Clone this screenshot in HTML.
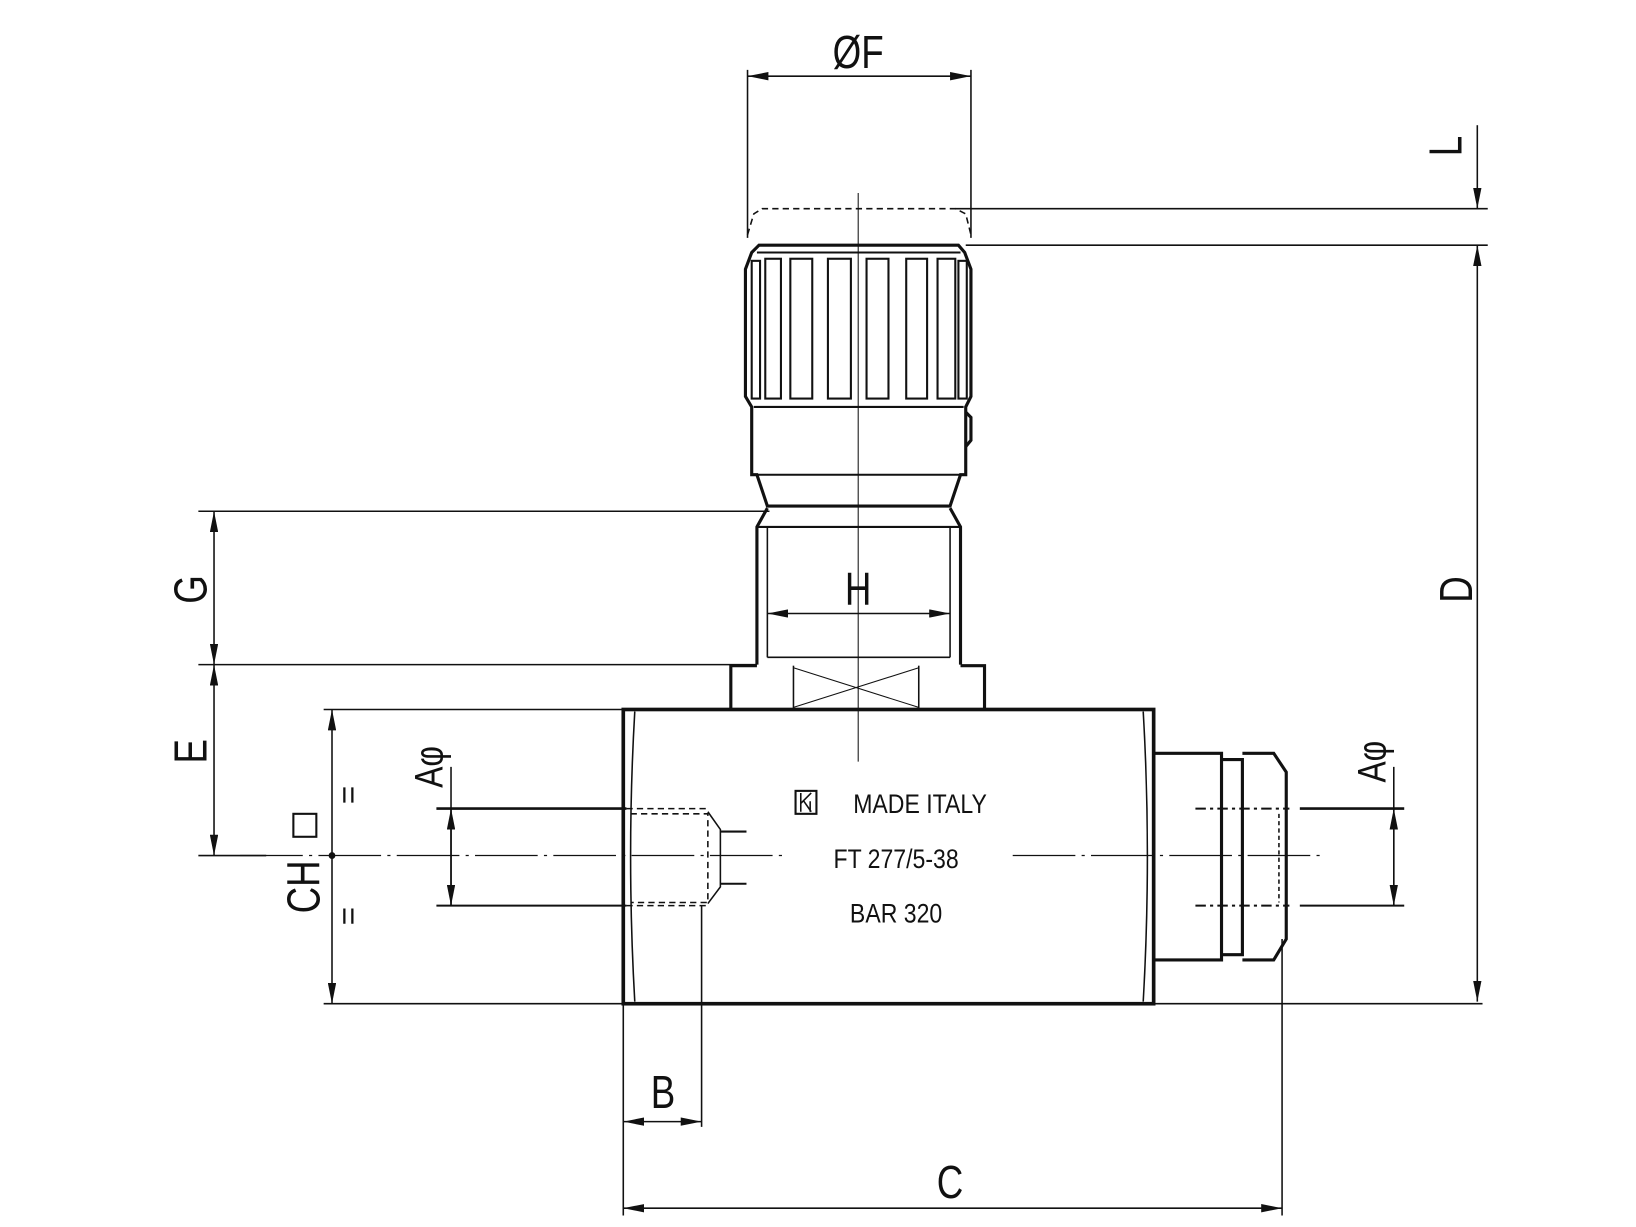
<!DOCTYPE html>
<html><head><meta charset="utf-8"><style>
html,body{margin:0;padding:0;background:#fff;}
svg{display:block}
text{font-family:"Liberation Sans",sans-serif;fill:#111}
</style></head><body>
<svg width="1636" height="1227" viewBox="0 0 1567 1176" preserveAspectRatio="none" xmlns="http://www.w3.org/2000/svg">
<defs>
<marker id="a" viewBox="0 0 20 8" refX="20" refY="4" markerWidth="20" markerHeight="8" markerUnits="userSpaceOnUse" orient="auto-start-reverse"><path d="M0,0 L20,4 L0,8 z" fill="#111"/></marker>
</defs>
<g stroke="#111" fill="none" stroke-width="1.5">
<!-- ØF -->
<line x1="716" y1="67" x2="716" y2="228"/>
<line x1="930" y1="67" x2="930" y2="228"/>
<line x1="716" y1="73" x2="930" y2="73" marker-start="url(#a)" marker-end="url(#a)"/>
<path d="M716,225 L722,205 L730,200 L915,200 L925,205 L930,225" stroke-dasharray="6,4"/>
<line x1="915" y1="200" x2="1425" y2="200"/>
<line x1="925" y1="235" x2="1425" y2="235"/>
<!-- L and D -->
<line x1="1415" y1="120" x2="1415" y2="200" marker-end="url(#a)"/>
<line x1="1415" y1="235" x2="1415" y2="960" marker-start="url(#a)" marker-end="url(#a)"/>
<!-- centre axis -->
<line x1="822" y1="185" x2="822" y2="730" stroke-width="1"/>
<!-- knob -->
<g stroke-width="3">
<path d="M727,235 L918,235 L924,242 L930,258 L930,380 L925,390 L925,455 L920,455 L910,485 L735,485 L725,455 L720,455 L720,390 L714,380 L714,258 L720,242 Z"/>
<line x1="722" y1="455" x2="923" y2="455" stroke-width="2"/>
<line x1="722" y1="390" x2="923" y2="390" stroke-width="2"/>
<path d="M925,395 L930,400 L930,422 L925,428"/>
</g>
<g stroke-width="2">
<line x1="725" y1="242" x2="920" y2="242"/>
<rect x="720" y="250" width="8" height="132"/>
<rect x="733" y="248" width="15" height="134"/>
<rect x="757" y="248" width="21" height="134"/>
<rect x="793" y="248" width="22" height="134"/>
<rect x="830" y="248" width="21" height="134"/>
<rect x="868" y="248" width="20" height="134"/>
<rect x="898" y="248" width="17" height="134"/>
<rect x="918" y="250" width="8" height="132"/>
</g>
<!-- neck -->
<path d="M735,487 L725,505 L725,637 M910,487 L920,505 L920,637" stroke-width="3"/>
<line x1="725" y1="505" x2="920" y2="505" stroke-width="2"/>
<line x1="735" y1="505" x2="735" y2="630"/>
<line x1="910" y1="505" x2="910" y2="630"/>
<line x1="735" y1="630" x2="910" y2="630"/>
<line x1="190" y1="490" x2="737" y2="490"/>
<line x1="190" y1="637" x2="725" y2="637"/>
<line x1="205" y1="490" x2="205" y2="637" marker-start="url(#a)" marker-end="url(#a)"/>
<line x1="735" y1="588" x2="910" y2="588" marker-start="url(#a)" marker-end="url(#a)"/>
<!-- hex -->
<path d="M700,680 L700,638 L725,638 M920,638 L943,638 L943,680" stroke-width="3"/>
<line x1="760" y1="638" x2="760" y2="680"/>
<line x1="880" y1="638" x2="880" y2="680"/>
<path d="M760,640 L880,678 M880,640 L760,678" stroke-width="1"/>
<line x1="205" y1="637" x2="205" y2="820" marker-start="url(#a)" marker-end="url(#a)"/>
<line x1="190" y1="820" x2="255" y2="820"/>
<!-- body -->
<rect x="597" y="680" width="508" height="282" stroke-width="3.5"/>
<path d="M608,682 Q600,820 608,960 M1095,682 Q1103,820 1095,960" stroke-width="1.5"/>
<line x1="310" y1="680" x2="597" y2="680"/>
<line x1="310" y1="962" x2="1420" y2="962"/>
<line x1="318" y1="680" x2="318" y2="962" marker-start="url(#a)" marker-end="url(#a)"/>
<circle cx="318" cy="820" r="2.5" fill="#111"/>
<!-- left port -->
<line x1="418" y1="775" x2="600" y2="775" stroke-width="2.5"/>
<line x1="418" y1="868" x2="600" y2="868" stroke-width="2"/>
<line x1="432" y1="735" x2="432" y2="868"/>
<line x1="432" y1="775" x2="432" y2="868" marker-start="url(#a)" marker-end="url(#a)"/>
<path d="M600,775 L678,775 M600,868 L678,868 M604,780 L678,780 L678,865 L604,865" stroke-dasharray="6,4"/>
<path d="M678,778 L690,795 L690,850 L678,866"/>
<line x1="690" y1="797" x2="715" y2="797" stroke-width="2"/>
<line x1="690" y1="847" x2="715" y2="847" stroke-width="2"/>
<line x1="672" y1="868" x2="672" y2="1080"/>
<!-- center line -->
<path d="M230,820 L750,820 M970,820 L1265,820" stroke-width="1.2" stroke-dasharray="60,6,3,6"/>
<!-- right fitting -->
<path d="M1105,722 L1170,722 L1170,920 L1105,920" stroke-width="3"/>
<path d="M1170,728 L1190,728 L1190,915 L1170,915" stroke-width="3"/>
<path d="M1190,722 L1220,722 L1232,740 L1232,900 L1220,920 L1190,920" stroke-width="3"/>
<path d="M1145,775 L1235,775 M1145,868 L1235,868" stroke-dasharray="10,4,3,4" stroke-width="2"/>
<line x1="1225" y1="780" x2="1225" y2="865" stroke-dasharray="4,3"/>
<line x1="1245" y1="775" x2="1345" y2="775" stroke-width="2.5"/>
<line x1="1245" y1="868" x2="1345" y2="868" stroke-width="2"/>
<line x1="1335" y1="735" x2="1335" y2="868"/>
<line x1="1335" y1="775" x2="1335" y2="868" marker-start="url(#a)" marker-end="url(#a)"/>
<!-- B and C -->
<line x1="597" y1="962" x2="597" y2="1165"/>
<line x1="1228" y1="900" x2="1228" y2="1165"/>
<line x1="597" y1="1075" x2="672" y2="1075" marker-start="url(#a)" marker-end="url(#a)"/>
<line x1="597" y1="1158" x2="1228" y2="1158" marker-start="url(#a)" marker-end="url(#a)"/>
<!-- logo -->
<rect x="762" y="758" width="20" height="22" stroke-width="2"/>
<path d="M767,760 L767,778 M767,770 L777,760 M770,768 L777,778 M776,768 L776,778" stroke-width="1.5"/>
<!-- CH square -->
<rect x="281" y="780" width="22" height="22" stroke-width="2"/>
</g>
<g font-size="44">
<text x="822" y="65" text-anchor="middle" transform="translate(822,0) scale(0.8,1) translate(-822,0)">ØF</text>
<text x="822" y="580" text-anchor="middle" transform="translate(822,0) scale(0.8,1) translate(-822,0)">H</text>
<text x="635" y="1062" text-anchor="middle" transform="translate(635,0) scale(0.8,1) translate(-635,0)">B</text>
<text x="910" y="1148" text-anchor="middle" transform="translate(910,0) scale(0.8,1) translate(-910,0)">C</text>
<text transform="translate(1400,140) rotate(-90) scale(0.8,1)" text-anchor="middle">L</text>
<text transform="translate(1410,565) rotate(-90) scale(0.8,1)" text-anchor="middle">D</text>
<text transform="translate(198,565) rotate(-90) scale(0.8,1)" text-anchor="middle">G</text>
<text transform="translate(198,720) rotate(-90) scale(0.8,1)" text-anchor="middle">E</text>
<text transform="translate(306,850) rotate(-90) scale(0.8,1)" text-anchor="middle">CH</text>
<text transform="translate(424,735) rotate(-90) scale(0.8,1)" text-anchor="middle" font-size="38">Aφ</text>
<text transform="translate(1327,730) rotate(-90) scale(0.8,1)" text-anchor="middle" font-size="38">Aφ</text>
<text transform="translate(344,762) rotate(-90)" text-anchor="middle" font-size="30">=</text>
<text transform="translate(344,878) rotate(-90)" text-anchor="middle" font-size="30">=</text>
</g>
<g font-size="26" transform="translate(860,0) scale(0.85,1) translate(-860,0)">
<text x="885" y="779" text-anchor="middle">MADE ITALY</text>
<text x="858" y="832" text-anchor="middle">FT 277/5-38</text>
<text x="858" y="884" text-anchor="middle">BAR 320</text>
</g>
</svg>
</body></html>
